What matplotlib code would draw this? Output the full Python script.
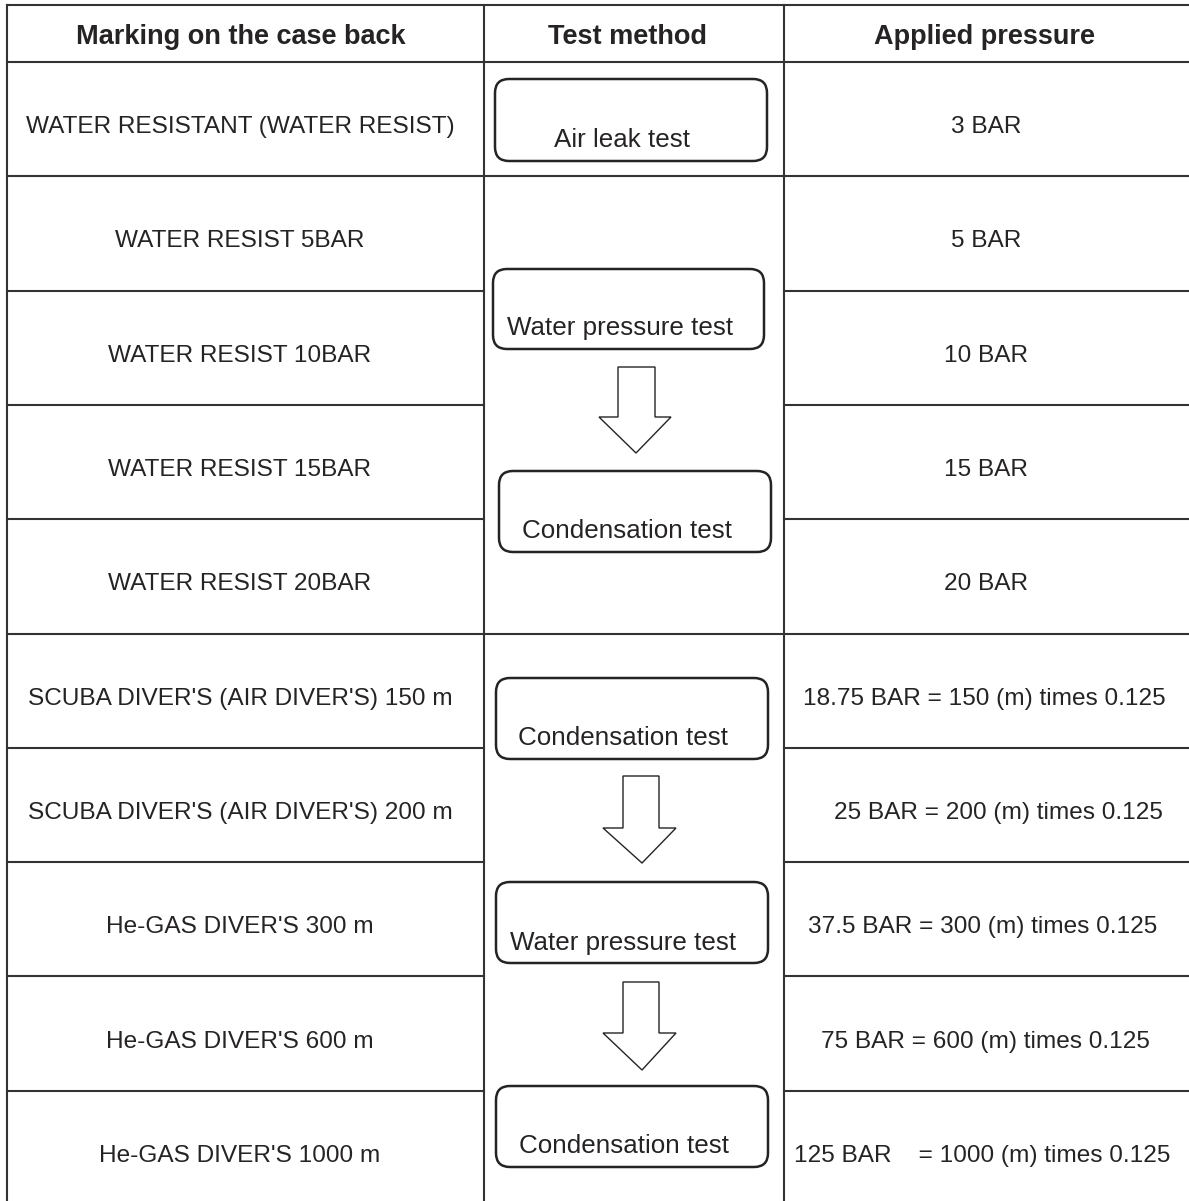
import matplotlib.pyplot as plt
from matplotlib.patches import FancyBboxPatch, Polygon

plt.rcParams['font.family'] = ['Liberation Sans', 'DejaVu Sans']

headers = ["Marking on the case back", "Test method", "Applied pressure"]
markings = [
    "WATER RESISTANT (WATER RESIST)",
    "WATER RESIST 5BAR",
    "WATER RESIST 10BAR",
    "WATER RESIST 15BAR",
    "WATER RESIST 20BAR",
    "SCUBA DIVER'S (AIR DIVER'S) 150 m",
    "SCUBA DIVER'S (AIR DIVER'S) 200 m",
    "He-GAS DIVER'S 300 m",
    "He-GAS DIVER'S 600 m",
    "He-GAS DIVER'S 1000 m",
]
pressures = [
    "3 BAR",
    "5 BAR",
    "10 BAR",
    "15 BAR",
    "20 BAR",
    "18.75 BAR = 150 (m) times 0.125",
    "25 BAR = 200 (m) times 0.125",
    "37.5 BAR = 300 (m) times 0.125",
    "75 BAR = 600 (m) times 0.125",
    "125 BAR    = 1000 (m) times 0.125",
]
methods = [
    "Air leak test",
    "Water pressure test",
    "Condensation test",
    "Condensation test",
    "Water pressure test",
    "Condensation test",
]
# rows after which the middle column gets a line too
section_breaks = [1, 5]

W, H = 1189, 1201
fig = plt.figure(figsize=(W / 100, H / 100), dpi=100)
ax = fig.add_axes([0, 0, 1, 1])
ax.set_xlim(0, W)
ax.set_ylim(H, 0)
ax.axis('off')

ink = '#262324'
lc = '#333333'
lw = 1.5

x0, x1, x2, x3 = 7, 484, 784, W
top, head_bot, row_h = 5, 62, 114.3

# frame
ax.plot([x0, x3], [top, top], color=lc, lw=lw)
ax.plot([x0, x3], [head_bot, head_bot], color=lc, lw=lw)
for x in (x0, x1, x2):
    ax.plot([x, x], [top, H], color=lc, lw=lw)

for i in range(1, len(markings)):
    y = head_bot + i * row_h
    if i in section_breaks:
        ax.plot([x0, x3], [y, y], color=lc, lw=lw)
    else:
        ax.plot([x0, x1], [y, y], color=lc, lw=lw)
        ax.plot([x2, x3], [y, y], color=lc, lw=lw)

# header
for cx, t in zip([(x0 + x1) / 2 - 5, (x1 + x2) / 2 - 6, 985], headers):
    ax.text(cx, 37, t, ha='center', va='center', fontsize=19.5,
            fontweight='bold', color=ink)

# rows
press_x = [986, 986, 986, 986, 986, 984, 998, 983, 985, 982]
for i, (m, p) in enumerate(zip(markings, pressures)):
    cy = head_bot + (i + 0.5) * row_h + 8
    ax.text(240, cy, m, ha='center', va='center', fontsize=17.6, color=ink)
    ax.text(press_x[i], cy, p, ha='center', va='center', fontsize=17.6, color=ink)

# flow boxes: (left, top, right, bottom, text x, text y)
boxes = [
    (495, 79, 767, 161, 622, 137),
    (493, 269, 764, 349, 620, 325),
    (499, 471, 771, 552, 627, 528),
    (496, 678, 768, 759, 623, 735),
    (496, 882, 768, 963, 623, 940),
    (496, 1086, 768, 1167, 624, 1143),
]
for (l, t, r, b, tx, ty), label in zip(boxes, methods):
    ax.add_patch(FancyBboxPatch((l, t), r - l, b - t,
                                boxstyle='round,pad=0,rounding_size=14',
                                fc='white', ec=ink, lw=1.8))
    ax.text(tx, ty + 3, label, ha='center', va='center', fontsize=18.7, color=ink)

# arrows: shaft left, shaft right, top, head y, head left, head right, tip y, tip x
arrows = [
    (618, 655, 367, 417, 599, 671, 453, 636),
    (623, 659, 776, 828, 603, 676, 863, 642),
    (623, 659, 982, 1033, 603, 676, 1070, 642),
]
for sl, sr, st, hy, hl, hr, ty, tx in arrows:
    pts = [(sl, st), (sr, st), (sr, hy), (hr, hy), (tx, ty), (hl, hy), (sl, hy)]
    ax.add_patch(Polygon(pts, closed=True, fc='white', ec=ink, lw=1.0))

fig.savefig('out.png', dpi=100)
